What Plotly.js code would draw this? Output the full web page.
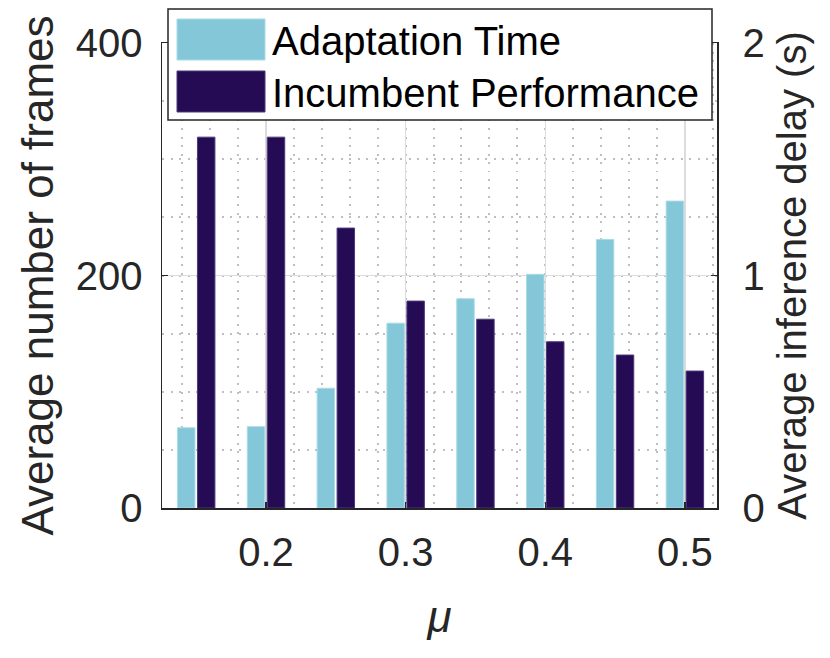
<!DOCTYPE html>
<html>
<head>
<meta charset="utf-8">
<script src="https://cdn.plot.ly/plotly-3.0.1.min.js"></script>
<style>html,body{margin:0;padding:0;background:#fff;}</style>
</head>
<body>
<div id="chart" style="width:830px;height:658px;"></div>
<script>
// ---- data ----
const mu = [0.15, 0.2, 0.25, 0.3, 0.35, 0.4, 0.45, 0.5];
const adaptationTime = [69, 70, 103, 159, 180, 201, 231, 264];          // frames (left axis)
const incumbentPerf = [1.595, 1.595, 1.204, 0.89, 0.812, 0.715, 0.658, 0.589]; // s (right axis)
const xTickVals = [0.2, 0.3, 0.4, 0.5];
const xTickText = ['0.2', '0.3', '0.4', '0.5'];
const yLeftTicks = [0, 200, 400];
const yRightTicks = [0, 1, 2];
const seriesNames = ['Adaptation Time', 'Incumbent Performance'];

const lightBlue = '#83c7d8';
const darkPurple = '#250a54';
const axisCol = '#262626';
const FONT = 'Liberation Sans, Arial, Helvetica, sans-serif';
const minorGrid = {gridcolor: '#bfbfbf', gridwidth: 2, griddash: '2px,6.5px'};

const barW = 0.0125;
const traces = [
  {
    type: 'bar', x: mu, y: adaptationTime, name: seriesNames[0],
    width: barW, offset: -0.0134, yaxis: 'y',
    marker: {color: lightBlue, line: {color: '#a9dbe8', width: 1}},
    showlegend: false
  },
  {
    type: 'bar', x: mu, y: incumbentPerf, name: seriesNames[1],
    width: barW, offset: 0.0009, yaxis: 'y2',
    marker: {color: darkPurple, line: {color: '#4b3a7c', width: 1}},
    showlegend: false
  }
];

// plot area in pixels: x 162..717, y 43..508
const L = 162, R = 717, T = 43, B = 508;
const px = v => (v - L) / (R - L);
const py = v => (B - v) / (B - T);

const layout = {
  width: 830, height: 658,
  margin: {l: L, r: 830 - R, t: T, b: 658 - B, pad: 0},
  paper_bgcolor: '#ffffff', plot_bgcolor: '#ffffff',
  font: {family: FONT, color: axisCol, size: 40},
  barmode: 'overlay',
  xaxis: {
    range: [0.1255, 0.523],
    tickmode: 'array', tickvals: xTickVals, ticktext: xTickText,
    ticks: 'inside', ticklen: 6, tickwidth: 1.5, tickcolor: axisCol,
    ticklabelstandoff: 8,
    tickfont: {size: 40, color: axisCol, family: FONT},
    showline: true, linecolor: axisCol, linewidth: 1.5, mirror: true,
    showgrid: true, gridcolor: '#dcdcdc', gridwidth: 1.5,
    zeroline: false,
    minor: Object.assign({tickmode: 'linear', tick0: 0, dtick: 0.02, showgrid: true, ticks: ''}, minorGrid),
    title: {text: '<i>μ</i>', font: {size: 44, color: axisCol, family: FONT}, standoff: 28}
  },
  yaxis: {
    range: [0, 400],
    tickmode: 'array', tickvals: yLeftTicks,
    ticks: 'inside', ticklen: 6, tickwidth: 1.5, tickcolor: axisCol,
    ticklabelstandoff: 10,
    tickfont: {size: 40, color: axisCol, family: FONT},
    showline: true, linecolor: axisCol, linewidth: 1.5,
    showgrid: true, gridcolor: '#dcdcdc', gridwidth: 1.5,
    zeroline: false,
    minor: Object.assign({tickmode: 'linear', tick0: 0, dtick: 50, showgrid: true, ticks: ''}, minorGrid),
    title: {text: 'Average number of frames', font: {size: 44, color: axisCol, family: FONT}, standoff: 8}
  },
  yaxis2: {
    range: [0, 2], overlaying: 'y', side: 'right',
    tickmode: 'array', tickvals: yRightTicks,
    ticks: 'inside', ticklen: 6, tickwidth: 1.5, tickcolor: axisCol,
    ticklabelstandoff: 16,
    tickfont: {size: 40, color: axisCol, family: FONT},
    showline: true, linecolor: axisCol, linewidth: 1.5,
    showgrid: false, zeroline: false,
    title: {text: 'Average inference delay (s)', font: {size: 40, color: axisCol, family: FONT}, standoff: 14}
  },
  shapes: [
    {type: 'rect', xref: 'paper', yref: 'paper', x0: px(168), x1: px(712), y0: py(120), y1: py(9),
     fillcolor: '#ffffff', line: {color: axisCol, width: 1.5}, layer: 'above'},
    {type: 'rect', xref: 'paper', yref: 'paper', x0: px(177), x1: px(265), y0: py(60), y1: py(19),
     fillcolor: lightBlue, line: {color: '#a9dbe8', width: 1}, layer: 'above'},
    {type: 'rect', xref: 'paper', yref: 'paper', x0: px(177), x1: px(265), y0: py(112), y1: py(71),
     fillcolor: darkPurple, line: {color: '#4b3a7c', width: 1}, layer: 'above'}
  ],
  annotations: [
    {xref: 'paper', yref: 'paper', x: px(270), y: py(41), xanchor: 'left', yanchor: 'middle',
     text: seriesNames[0], showarrow: false, font: {size: 40, color: '#000000', family: FONT}},
    {xref: 'paper', yref: 'paper', x: px(270), y: py(93), xanchor: 'left', yanchor: 'middle',
     text: seriesNames[1], showarrow: false, font: {size: 40, color: '#000000', family: FONT}}
  ]
};

Plotly.newPlot('chart', traces, layout, {displayModeBar: false, staticPlot: true});
</script>
</body>
</html>
